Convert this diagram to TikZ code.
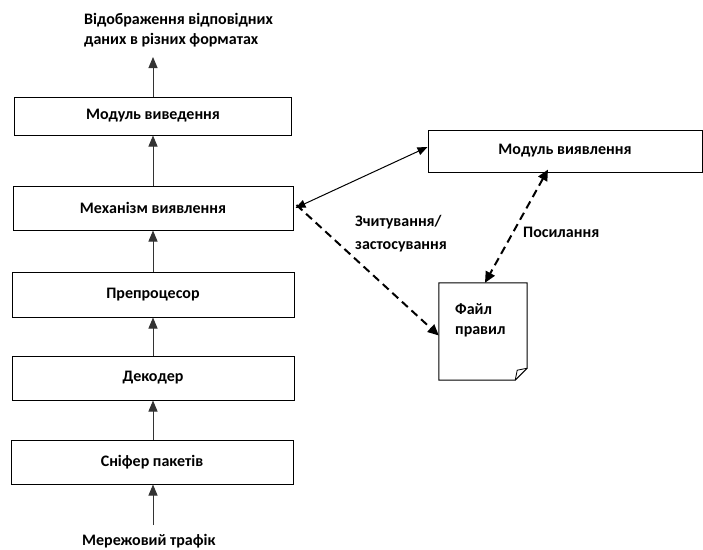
\documentclass[tikz,border=0pt]{standalone}
\usepackage{fontspec}
\setmainfont{Carlito}
\usetikzlibrary{arrows.meta}

\begin{document}
\begin{tikzpicture}[x=1pt,y=-1pt,font=\bfseries\fontsize{16}{20}\selectfont,
	blok/.style={draw,line width=1pt,minimum width=280pt,inner sep=0pt},
	tekst/.style={align=left,inner sep=0pt,anchor=west},
	strilka/.style={line width=1pt,draw=black!80,-{Triangle[length=11pt,width=9pt]}},
	pukt/.style={line width=2pt,dash pattern=on 8pt off 5pt,-{Triangle[length=11pt,width=10pt]}}]
	\useasboundingbox (0,0) rectangle (703,549);
	% ліва колонка
	\node[blok,minimum width=277pt,minimum height=38pt] (vyved) at (153,116) {Модуль виведення};
	\node[blok,minimum height=44pt] (mekh) at (153,208) {Механізм виявлення};
	\node[blok,minimum width=282pt,minimum height=45pt] (prep) at (153,294.5) {Препроцесор};
	\node[blok,minimum width=282pt,minimum height=44pt] (dekod) at (153,378) {Декодер};
	\node[blok,minimum width=282pt,minimum height=44pt] (snif) at (152,462) {Сніфер пакетів};
	\node[tekst] (vidobr) at (84,30) {Відображення відповідних\\даних в різних форматах};
	\node[tekst] (trafik) at (82,541) {Мережовий трафік};
	\coordinate (vhid) at (153,525);
	\coordinate (vyhid) at (153,57);
	% права частина
	\node[blok,minimum width=274pt,minimum height=42pt] (modvyav) at (565,151) {Модуль виявлення};
	\def\fold{12}
	\node[minimum width=88pt,minimum height=97pt,inner sep=0pt] (fajl) at (483,331.5) {};
	\draw[line width=1pt] (fajl.north west) -- (fajl.north east) -- ([yshift=\fold]fajl.south east)
		-- ([xshift=-\fold]fajl.south east) -- (fajl.south west) -- cycle;
	\draw[line width=0.8pt] ([yshift=\fold]fajl.south east) -- ([xshift=-\fold+2,yshift=\fold-2]fajl.south east) -- ([xshift=-\fold]fajl.south east);
	\node[tekst] (fajltxt) at (455,320) {Файл\\правил};
	\node[tekst,font=\bfseries\fontsize{16}{23}\selectfont] (zchyt) at (355,234) {Зчитування/\\застосування};
	\node[tekst] (posyl) at (523,232) {Посилання};
	% стрілки
	\draw[strilka] (vhid) -- (vhid |- snif.south);
	\draw[strilka] (snif.north -| vhid) -- (dekod.south);
	\draw[strilka] (dekod) ++(0,-22) -- (prep.south);
	\draw[strilka] (prep.north) -- (mekh.south);
	\draw[strilka] (mekh.north) -- (vyved.south);
	\draw[strilka] (vyved.north) -- (vyhid);
	\draw[line width=1pt,{Triangle[length=10pt,width=8pt]}-{Triangle[length=10pt,width=8pt]}] ([xshift=2pt]mekh.east) -- ([yshift=4pt]modvyav.west);
	\draw[pukt] ([xshift=3pt,yshift=3pt]mekh.east) -- ([yshift=-4pt]fajl.west);
	\draw[pukt,{Triangle[length=11pt,width=10pt]}-{Triangle[length=11pt,width=10pt]}] ([xshift=-17pt,yshift=3pt]modvyav.south) -- ([xshift=2pt]fajl.north);
\end{tikzpicture}
\end{document}
